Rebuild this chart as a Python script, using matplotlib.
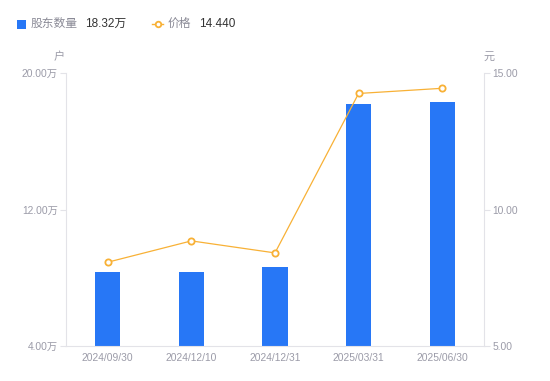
import matplotlib
matplotlib.use("Agg")
import matplotlib.pyplot as plt
from matplotlib.lines import Line2D
from matplotlib.patches import Rectangle

plt.rcParams['font.family'] = ['Liberation Sans', 'Noto Sans CJK SC', 'DejaVu Sans']

categories = ["2024/09/30", "2024/12/10", "2024/12/31", "2025/03/31", "2025/06/30"]
holders_wan = [8.34, 8.34, 8.62, 18.20, 18.32]
price = [8.07, 8.85, 8.41, 14.25, 14.44]
left_ticks = [4, 12, 20]
left_tick_labels = ["4.00万", "12.00万", "20.00万"]
right_ticks = [5, 10, 15]
right_tick_labels = ["5.00", "10.00", "15.00"]

BLUE = "#2777f6"
ORANGE = "#f8b136"
TICK_C = "#9b9ba8"
AXIS_C = "#e3e3e8"

fig = plt.figure(figsize=(5.5, 3.81), dpi=100)
ax = fig.add_axes([66/550, 1-346/381, (484-66)/550, (346-73)/381])
ax2 = ax.twinx()

x = list(range(len(categories)))
ax.bar(x, holders_wan, width=0.3, color=BLUE, zorder=2)
ax.set_xlim(-0.5, len(categories)-0.5)
ax.set_ylim(4, 20)
ax.set_yticks(left_ticks)
ax.set_yticklabels(left_tick_labels)
ax.set_xticks(x)
ax.set_xticklabels(categories)

ax2.plot(x, price, color=ORANGE, lw=0.9, marker='o', ms=4.5, mfc='white',
         mec=ORANGE, mew=1.3, zorder=3)
ax2.set_ylim(5, 15)
ax2.set_yticks(right_ticks)
ax2.set_yticklabels(right_tick_labels)

for a in (ax, ax2):
    for s in a.spines.values():
        s.set_visible(False)
ax.spines['left'].set_visible(True)
ax.spines['left'].set_color(AXIS_C)
ax.spines['bottom'].set_visible(True)
ax.spines['bottom'].set_color(AXIS_C)
ax2.spines['right'].set_visible(True)
ax2.spines['right'].set_color(AXIS_C)

ax.tick_params(axis='y', colors=AXIS_C, labelcolor=TICK_C, labelsize=7.4, length=4, width=0.8, pad=2)
ax.tick_params(axis='x', length=0, labelcolor=TICK_C, labelsize=7.4, pad=5)
ax2.tick_params(axis='y', colors=AXIS_C, labelcolor=TICK_C, labelsize=7.4, length=4, width=0.8, pad=2)

fig.text(59/550, 1-57/381, "户", color=TICK_C, fontsize=8, ha='center', va='center')
fig.text(489/550, 1-57/381, "元", color=TICK_C, fontsize=8, ha='center', va='center')

# legend
ly = 1 - 24/381
fig.add_artist(Rectangle((17/550, 1-29/381), 9/550, 9/381, transform=fig.transFigure,
                         color=BLUE, ec='none'))
fig.text(31/550, ly, "股东数量", color="#8a8a96", fontsize=8.5, va='center', ha='left')
fig.text(85/550, ly, "18.32万", color="#333333", fontsize=8.5, va='center', ha='left')
fig.add_artist(Line2D([152/550, 163/550], [ly, ly], transform=fig.transFigure,
                      color=ORANGE, lw=1.0))
fig.add_artist(Line2D([157.5/550], [ly], transform=fig.transFigure,
                      color=ORANGE, marker='o', ms=4, mfc='white', mec=ORANGE, mew=1.3, lw=0))
fig.text(168/550, ly, "价格", color="#8a8a96", fontsize=8.5, va='center', ha='left')
fig.text(199/550, ly, "14.440", color="#333333", fontsize=8.5, va='center', ha='left')

fig.savefig("out.png", dpi=100)
